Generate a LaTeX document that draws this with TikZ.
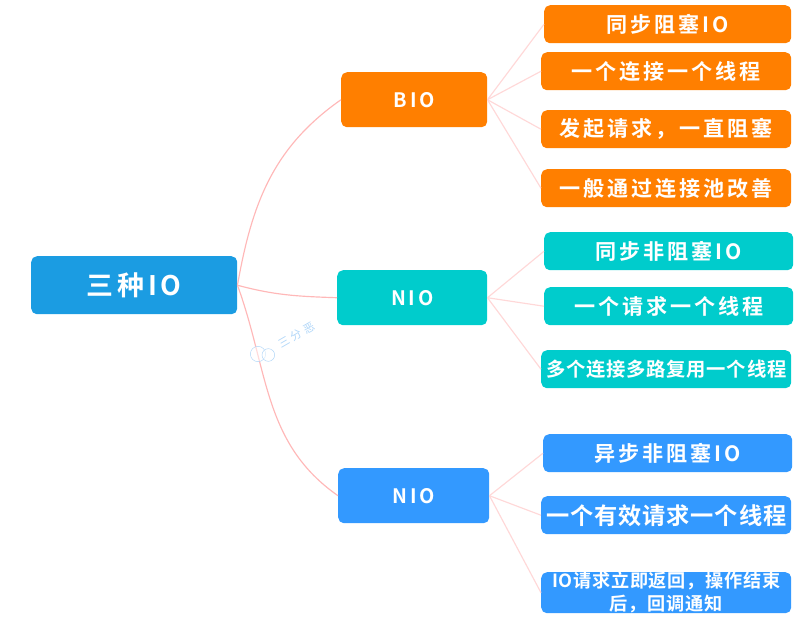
\documentclass[tikz,border=0pt]{standalone}
\usepackage{fontspec}
\newfontfamily\cjk[LetterSpace=14]{Noto Sans CJK SC Bold}
\newfontfamily\cjktight[LetterSpace=4]{Noto Sans CJK SC Bold}
\newfontfamily\cjkmark[LetterSpace=30]{Noto Sans CJK SC}
\definecolor{bioc}{HTML}{FF7F00}
\definecolor{nioc}{HTML}{00CCCC}
\definecolor{aioc}{HTML}{3399FF}
\definecolor{rootc}{HTML}{1B9CE2}
\definecolor{linkc}{HTML}{FFB8B8}
\definecolor{leafl}{HTML}{FFD8D8}
\definecolor{markc}{HTML}{B0D6F8}
\usetikzlibrary{positioning}
\begin{document}
\begin{tikzpicture}[
      box/.style={rounded corners=.17cm,inner sep=0pt,text=white,align=center,anchor=north west},
      branch/.style={box,minimum width=4.45cm,minimum height=1.65cm,font=\cjk\fontsize{17}{20}\selectfont},
      leaf/.style={box,minimum width=7.5cm,minimum height=1.14cm,font=\cjk\fontsize{18}{20}\selectfont},
      curve/.style={draw=linkc,line width=1pt},
      twig/.style={draw=leafl,line width=1pt}
    ]

    \useasboundingbox (0,0) rectangle (24.24,-18.57);

    \node[box,fill=rootc,minimum width=6.18cm,minimum height=1.74cm,font=\cjk\fontsize{23}{26}\selectfont] (root) at (.93,-7.68) {三种IO};

    \node[branch,fill=bioc,minimum width=4.38cm] (bio) at (10.23,-2.16) {BIO};
    \node[branch,fill=nioc,minimum width=4.5cm]  (nio) at (10.11,-8.10) {NIO};
    \node[branch,fill=aioc,minimum width=4.53cm] (aio) at (10.14,-14.04) {NIO};

    \node[leaf,fill=bioc,minimum width=7.41cm] (bio0) at (16.32,-.15) {同步阻塞IO};
    \node[leaf,fill=bioc] (bio1) at (16.23,-1.56) {一个连接一个线程};
    \node[leaf,fill=bioc] (bio2) at (16.23,-3.30) {发起请求，一直阻塞};
    \node[leaf,fill=bioc] (bio3) at (16.23,-5.07) {一般通过连接池改善};

    \node[leaf,fill=nioc,minimum width=7.47cm] (nio0) at (16.32,-6.96) {同步非阻塞IO};
    \node[leaf,fill=nioc,minimum width=7.47cm] (nio1) at (16.32,-8.61) {一个请求一个线程};
    \node[leaf,fill=nioc,font=\cjktight\fontsize{16.5}{18}\selectfont] (nio2) at (16.23,-10.50) {多个连接多路复用一个线程};

    \node[leaf,fill=aioc,minimum width=7.47cm] (aio0) at (16.29,-13.02) {异步非阻塞IO};
    \node[leaf,fill=aioc,font=\cjktight\fontsize{19.8}{20}\selectfont] (aio1) at (16.23,-14.88) {一个有效请求一个线程};
    \node[leaf,fill=aioc,font=\cjktight\fontsize{15.5}{19.5}\selectfont] (aio2) at (16.23,-17.16) {IO请求立即返回，操作结束\\后，回调通知};

    \path[curve] (root.east) to[out=80,in=215] (bio.west);
    \path[curve] (root.east) to[out=-15,in=178] (nio.west);
    \path[curve] (root.east) to[out=-70,in=145] (aio.west);

    \foreach \from/\to in {bio/bio0,bio/bio1,bio/bio2,bio/bio3,nio/nio0,nio/nio1,nio/nio2,aio/aio0,aio/aio1,aio/aio2} {
      \path[twig] (\from.east) -- (\to.west);
    }

    \node[circle,draw=markc,fill=white,fill opacity=.5,minimum size=.46cm,inner sep=0pt] (wxa) at (7.74,-10.62) {};
    \node[circle,draw=markc,fill=white,fill opacity=.5,minimum size=.38cm,inner sep=0pt] (wxb) at (8.05,-10.65) {};
    \node[text=markc,rotate=30,font=\cjkmark\fontsize{9.5}{10}\selectfont] (mark) at (8.9,-10.05) {三分恶};
\end{tikzpicture}
\end{document}
